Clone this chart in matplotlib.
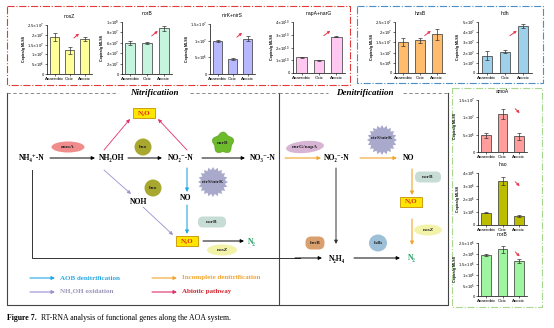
import numpy as np
import matplotlib
matplotlib.use('Agg')
from matplotlib import pyplot as plt
from matplotlib.patches import Rectangle, Ellipse, Polygon, FancyBboxPatch

W, H = 554, 328
SERIF = ['Liberation Serif', 'DejaVu Serif']
SANS = ['Liberation Sans', 'DejaVu Sans']

stages = ['Anaerobic', 'Oxic', 'Anoxic']

# bar chart data (copies/g MLSS)
nosZ_vals = [1.89e7, 1.22e7, 1.78e7]
nosZ_err = [0.20e7, 0.18e7, 0.12e7]
norB_top_vals = [6.0e7, 6.0e7, 8.8e7]
norB_top_err = [0.40e7, 0.15e7, 0.50e7]
nir_vals = [1.0e7, 0.45e7, 1.06e7]
nir_err = [0.03e7, 0.02e7, 0.08e7]
nap_vals = [1.25e10, 1.0e10, 2.85e10]
nap_err = [0.04e10, 0.03e10, 0.05e10]
hzsB_vals = [1.5e7, 1.6e7, 1.9e7]
hzsB_err = [0.20e7, 0.12e7, 0.26e7]
hdh_vals = [1.7e7, 2.1e7, 4.6e7]
hdh_err = [0.45e7, 0.15e7, 0.20e7]
amoA_vals = [0.48e7, 1.1e7, 0.45e7]
amoA_err = [0.07e7, 0.15e7, 0.10e7]
hao_vals = [0.95e6, 3.4e6, 0.7e6]
hao_err = [0.03e6, 0.30e6, 0.10e6]
norB_g_vals = [1.95e6, 2.2e6, 1.65e6]
norB_g_err = [0.04e6, 0.15e6, 0.10e6]

def sci(m, e):
    return r'$%s{\times}10^{%d}$' % (m, e)

ticks_25e7 = ([0, 5e6, 1e7, 1.5e7, 2e7, 2.5e7], ['0', sci('5', 6), sci('1', 7), sci('1.5', 7), sci('2', 7), sci('2.5', 7)])
ticks_norB = ([0, 2e7, 4e7, 6e7, 8e7, 1e8], ['0', sci('2', 7), sci('4', 7), sci('6', 7), sci('8', 7), sci('1', 8)])
ticks_15e7 = ([0, 5e6, 1e7, 1.5e7], ['0', sci('5', 6), sci('1', 7), sci('1.5', 7)])
ticks_nap = ([0, 1e10, 2e10, 3e10, 4e10], ['0', sci('1', 10), sci('2', 10), sci('3', 10), sci('4', 10)])
ticks_hdh = ([0, 1e7, 2e7, 3e7, 4e7, 5e7], ['0', sci('1', 7), sci('2', 7), sci('3', 7), sci('4', 7), sci('5', 7)])
ticks_hao = ([0, 1e6, 2e6, 3e6, 4e6], ['0', sci('1', 6), sci('2', 6), sci('3', 6), sci('4', 6)])
ticks_25e6 = ([0, 5e5, 1e6, 1.5e6, 2e6, 2.5e6], ['0', sci('5', 5), sci('1', 6), sci('1.5', 6), sci('2', 6), sci('2.5', 6)])

fig = plt.figure(figsize=(W / 100, H / 100), dpi=100)
fig.patch.set_facecolor('white')

ax0 = fig.add_axes([0, 0, 1, 1])
ax0.set_xlim(0, W)
ax0.set_ylim(H, 0)
ax0.axis('off')

def box(x0, y0, x1, y1):
    return [x0 / W, 1 - y1 / H, (x1 - x0) / W, (y1 - y0) / H]

def bars(pos, title, vals, err, color, ticks, up=True):
    ax = fig.add_axes(box(*pos))
    ax.patch.set_alpha(0)
    ax.bar(range(3), vals, width=0.6, color=color, edgecolor='#333333', linewidth=0.5,
           yerr=err, error_kw=dict(ecolor='#333333', elinewidth=0.5, capsize=1.5, capthick=0.5))
    ax.set_xlim(-0.5, 2.5)
    ax.set_ylim(0, ticks[0][-1])
    ax.set_yticks(ticks[0])
    ax.set_yticklabels(ticks[1], fontsize=2.6)
    ax.set_xticks(range(3))
    ax.set_xticklabels(stages, fontsize=3.2, family=SANS)
    ax.tick_params(length=1.2, width=0.4, pad=0.8)
    for s in ['top', 'right']:
        ax.spines[s].set_visible(False)
    for s in ['left', 'bottom']:
        ax.spines[s].set_linewidth(0.5)
    ax.set_ylabel('Copies/g MLSS', fontsize=2.6, fontweight='bold', labelpad=1, family=SANS)
    ax.set_title(title, fontsize=3.6, pad=5, family=SANS)
    if up:
        ax.annotate('', xy=(0.76, 0.86), xytext=(0.55, 0.70), xycoords='axes fraction',
                    arrowprops=dict(arrowstyle='-|>', color='#E8384F', lw=0.7, mutation_scale=3.5))
    else:
        ax.annotate('', xy=(0.89, 0.71), xytext=(0.72, 0.87), xycoords='axes fraction',
                    arrowprops=dict(arrowstyle='-|>', color='#E8384F', lw=0.7, mutation_scale=3.5))
    return ax

# frames around chart groups
ax0.add_patch(Rectangle((7, 6), 343, 79, fill=False, ec='#E03A3A', lw=0.8, ls='-.'))
ax0.add_patch(Rectangle((357, 6), 186, 77, fill=False, ec='#4C8FC8', lw=0.8, ls='-.'))
ax0.add_patch(Rectangle((452, 88), 90, 219, fill=False, ec='#A8D890', lw=0.8, ls='-.'))

bars((47, 25, 92, 74), 'nosZ', nosZ_vals, nosZ_err, '#FFFF99', ticks_25e7)
bars((122, 22, 172, 74), 'norB', norB_top_vals, norB_top_err, '#C6F5DF', ticks_norB)
bars((210, 24, 255, 74), 'nirK+nirS', nir_vals, nir_err, '#B8B8FF', ticks_15e7)
bars((293, 22, 345, 73), 'napA+narG', nap_vals, nap_err, '#FFC8F0', ticks_nap)
bars((395, 22, 445, 73), 'hzsB', hzsB_vals, hzsB_err, '#FFBB6E', ticks_25e7)
bars((478, 22, 532, 73), 'hdh', hdh_vals, hdh_err, '#9FD0EA', ticks_hdh)
bars((478, 100, 527, 152), 'amoA', amoA_vals, amoA_err, '#FF9C9C', ticks_15e7, up=False)
bars((478, 173, 527, 225), 'hao', hao_vals, hao_err, '#BDBD00', ticks_hao, up=False)
bars((478, 243, 527, 296), 'norB', norB_g_vals, norB_g_err, '#A0F5A0', ticks_25e6, up=False)

# main pathway diagram frame
fc = '#444444'
ax0.plot([7, 7, 448, 448], [93, 305, 305, 93], color=fc, lw=0.8)
ax0.plot([279, 279], [93, 305], color=fc, lw=0.8)
ax0.plot([7, 118], [93, 93], color='#777777', lw=0.6, ls=(0, (4, 3)))
ax0.plot([190, 279], [93, 93], color='#777777', lw=0.6, ls=(0, (4, 3)))
ax0.plot([279, 328], [93, 93], color='#777777', lw=0.6, ls=(0, (4, 3)))
ax0.plot([403, 448], [93, 93], color='#777777', lw=0.6, ls=(0, (4, 3)))
ax0.text(154, 93, 'Nitrificatiion', ha='center', va='center', fontsize=6.5,
         fontweight='bold', style='italic', family=SERIF)
ax0.text(365, 93, 'Denitrificatiion', ha='center', va='center', fontsize=6.5,
         fontweight='bold', style='italic', family=SERIF)

def arr(x0, y0, x1, y1, color='black', lw=0.7):
    ax0.annotate('', xy=(x1, y1), xytext=(x0, y0),
                 arrowprops=dict(arrowstyle='-|>', color=color, lw=lw, mutation_scale=5,
                                 shrinkA=0, shrinkB=0))

def lab(x, y, s, color='black', size=5.5):
    ax0.text(x, y, s, ha='center', va='center', fontsize=size, fontweight='bold',
             color=color, family=SERIF)

def n2o(x, y):
    ax0.add_patch(Rectangle((x - 11, y - 5), 22, 10, fc='#FFE600', ec='#C89000', lw=0.6))
    lab(x, y, 'N₂O', color='#E0201E', size=5)

def gene(x, y, s, size=3.8):
    ax0.text(x, y, s, ha='center', va='center', fontsize=size, fontweight='bold',
             color='#222222', family=SERIF)

def star(x, y, r, n=20, color='#A9A9CC'):
    t = np.linspace(0, 2 * np.pi, 2 * n, endpoint=False)
    rr = np.where(np.arange(2 * n) % 2 == 0, r, r * 0.8)
    ax0.add_patch(Polygon(np.c_[x + rr * np.cos(t), y + rr * np.sin(t)], closed=True,
                          fc=color, ec='none'))

def flower(x, y, r, color='#6DBB2A'):
    t = np.linspace(0, 2 * np.pi, 200)
    rr = r * (0.9 + 0.1 * np.cos(5 * (t + np.pi / 2)))
    ax0.add_patch(Polygon(np.c_[x + rr * np.cos(t), y + rr * np.sin(t)], closed=True,
                          fc=color, ec='#4E9A1A', lw=0.4))

def blob(x, y, w, h, color):
    ax0.add_patch(FancyBboxPatch((x - w / 2, y - h / 2), w, h,
                                 boxstyle='round,pad=0,rounding_size=%f' % (h / 2.2),
                                 fc=color, ec='none'))

# nitrification side
lab(32, 158, 'NH₄⁺-N')
lab(112, 158, 'NH₂OH')
lab(181, 158, 'NO₂⁻-N')
lab(263, 158, 'NO₃⁻-N')
n2o(144, 113)
ax0.add_patch(Ellipse((68, 147), 33, 11, fc='#F08C8C', ec='none'))
gene(68, 147, 'amoA')
arr(50, 158, 95, 158)
ax0.add_patch(Ellipse((143, 147), 17, 17, fc='#A8A830', ec='none'))
gene(143, 147, 'hao')
arr(128, 158, 162, 158)
flower(223, 143, 11)
gene(223, 143, 'nxrB')
arr(202, 158, 245, 158)
arr(104, 150, 130, 119, color='#E0306A', lw=0.6)
arr(187, 150, 158, 119, color='#E0306A', lw=0.6)
star(213, 182, 15)
gene(213, 182, 'nirS/nirK')
ax0.add_patch(Ellipse((153, 188), 17, 17, fc='#A8A830', ec='none'))
gene(153, 188, 'hao')
lab(139, 202, 'NOH')
lab(186, 198, 'NO')
arr(104, 170, 131, 194, color='#9C8FD0', lw=0.6)
arr(187, 168, 187, 192, color='#22A8E8', lw=0.8)
blob(212, 222, 28, 11, '#C8DCD6')
gene(212, 222, 'norB')
n2o(187, 241)
arr(187, 205, 187, 234, color='#22A8E8', lw=0.8)
arr(143, 207, 173, 235, color='#9C8FD0', lw=0.6)
arr(203, 241, 244, 241)
lab(252, 242, 'N₂', color='#1EA060')
ax0.add_patch(Ellipse((222, 250), 30, 11, fc='#F2F2A8', ec='none'))
gene(222, 250, 'nosZ')

# anammox route across both panels
ax0.plot([32, 32, 300], [170, 258, 258], color='#333333', lw=0.7)
arr(295, 258, 322, 258)
lab(337, 259, 'N₂H₄')
arr(354, 258, 400, 258)
lab(412, 258, 'N₂', color='#1EA060')
blob(315, 243, 19, 13, '#D9A06E')
gene(315, 243, 'hzsB')
ax0.add_patch(Ellipse((378, 243), 18, 17, fc='#9DC0D8', ec='none'))
gene(378, 243, 'hdh')

# denitrification side
ax0.add_patch(Ellipse((305, 147), 38, 12, angle=-5, fc='#D8B4D4', ec='none'))
gene(305, 147, 'narG/napA')
arr(285, 158, 321, 158, color='#F2A52A', lw=0.8)
lab(337, 158, 'NO₂⁻-N')
star(382, 140, 15)
gene(382, 138, 'nirS/nirK')
arr(360, 158, 397, 158, color='#F2A52A', lw=0.8)
lab(409, 158, 'NO')
blob(428, 177, 26, 11, '#C8DCD6')
gene(428, 177, 'norB')
arr(412, 169, 412, 195, color='#F2A52A', lw=0.8)
n2o(411, 202)
arr(412, 219, 412, 245, color='#F2A52A', lw=0.8)
ax0.add_patch(Ellipse((428, 230), 28, 11, fc='#F2F2A8', ec='none'))
gene(428, 230, 'nosZ')
arr(336, 168, 336, 244, color='#333333', lw=0.7)

# legend
arr(30, 278, 55, 278, color='#22A8E8', lw=0.8)
ax0.text(60, 278, 'AOB denitrification', va='center', fontsize=5, fontweight='bold',
         color='#2AA8E0', family=SERIF)
arr(152, 278, 177, 278, color='#F2A52A', lw=0.8)
ax0.text(182, 278, 'Incomplete denitrification', va='center', fontsize=5, fontweight='bold',
         color='#F2A52A', family=SERIF)
arr(30, 292, 55, 292, color='#9C8FD0', lw=0.8)
ax0.text(60, 292, 'NH₂OH oxidation', va='center', fontsize=5, fontweight='bold',
         color='#9A93B8', family=SERIF)
arr(152, 292, 177, 292, color='#E0306A', lw=0.8)
ax0.text(182, 292, 'Abiotic pathway', va='center', fontsize=5, fontweight='bold',
         color='#D0202A', family=SERIF)

# caption
ax0.text(7, 318, 'Figure 7.', va='center', fontsize=5.6, fontweight='bold', family=SERIF)
ax0.text(41, 318, 'RT-RNA analysis of functional genes along the AOA system.', va='center',
         fontsize=5.6, family=SERIF)

fig.savefig('out.png', dpi=100)
